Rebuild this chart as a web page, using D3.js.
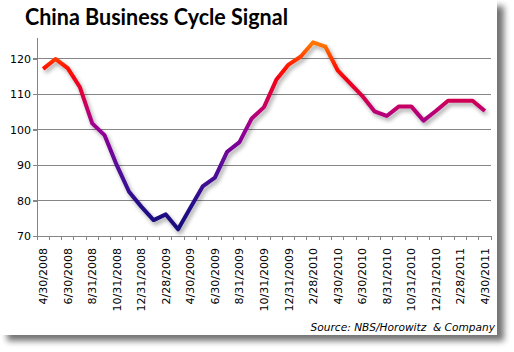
<!DOCTYPE html>
<html>
<head>
<meta charset="utf-8">
<script src="https://cdn.jsdelivr.net/npm/d3@7"></script>
<style>
  body { margin: 0; background: #fff; }
  svg { display: block; }
</style>
</head>
<body>
<div id="chart"></div>
<script>
// month-end dates, 4/30/2008 .. 4/30/2011
const dates = ["4/30/2008","5/31/2008","6/30/2008","7/31/2008","8/31/2008","9/30/2008",
  "10/31/2008","11/30/2008","12/31/2008","1/31/2009","2/28/2009","3/31/2009",
  "4/30/2009","5/31/2009","6/30/2009","7/31/2009","8/31/2009","9/30/2009",
  "10/31/2009","11/30/2009","12/31/2009","1/31/2010","2/28/2010","3/31/2010",
  "4/30/2010","5/31/2010","6/30/2010","7/31/2010","8/31/2010","9/30/2010",
  "10/31/2010","11/30/2010","12/31/2010","1/31/2011","2/28/2011","3/31/2011","4/30/2011"]

const signal = [117.2,120,117.4,112,101.8,98.5,90,82.5,78.3,74.5,76.1,71.9,
  78,84,86.5,93.8,96.5,103.2,106.4,114.1,118.4,120.7,124.7,123.5,
  116.8,113.2,109.6,105.2,103.9,106.6,106.6,102.6,105.3,108.2,108.2,108.2,105.3]

const yTicks = [70,80,90,100,110,120]

// colour of the line by value (low = blue, high = orange)
const colorStops = [[72,"#180c7c"],[78,"#241088"],[88,"#4c0c98"],[100,"#960096"],[106,"#c2006c"],
  [112,"#e6002c"],[117,"#ff0a00"],[124,"#ff7400"]]

const width = 514, height = 352
const margin = {left: 37, right: 23, top: 37, bottom: 116}

const svg = d3.select("#chart").append("svg")
    .attr("width", width)
    .attr("height", height)

const defs = svg.append("defs")

// frame shadow
const fs = defs.append("filter").attr("id","frameShadow")
    .attr("x","-5%").attr("y","-5%").attr("width","115%").attr("height","115%")
fs.append("feGaussianBlur").attr("in","SourceAlpha").attr("stdDeviation",3)
fs.append("feOffset").attr("dx",7).attr("dy",6).attr("result","b")
fs.append("feComponentTransfer").append("feFuncA").attr("type","linear").attr("slope",0.55)
const fm = fs.append("feMerge")
fm.append("feMergeNode")
fm.append("feMergeNode").attr("in","SourceGraphic")

// line shadow
const ls = defs.append("filter").attr("id","lineShadow")
    .attr("x","-10%").attr("y","-10%").attr("width","120%").attr("height","130%")
ls.append("feGaussianBlur").attr("in","SourceAlpha").attr("stdDeviation",2)
ls.append("feOffset").attr("dx",2).attr("dy",3).attr("result","b")
ls.append("feComponentTransfer").append("feFuncA").attr("type","linear").attr("slope",0.35)
const lm = ls.append("feMerge")
lm.append("feMergeNode")
lm.append("feMergeNode").attr("in","SourceGraphic")

svg.append("rect")
    .attr("x", 0).attr("y", 0)
    .attr("width", 497).attr("height", 335)
    .attr("fill", "#fff")
    .attr("filter", "url(#frameShadow)")

const x = d3.scaleBand()
    .domain(dates)
    .range([margin.left, width - margin.right])

const y = d3.scaleLinear()
    .domain([70, 126.2])
    .range([height - margin.bottom, margin.top])

const grad = defs.append("linearGradient").attr("id","lineGrad")
    .attr("gradientUnits","userSpaceOnUse")
    .attr("x1",0).attr("x2",0)
    .attr("y1",y(70)).attr("y2",y(126.2))
grad.selectAll("stop").data(colorStops).join("stop")
    .attr("offset", d => (d[0]-70)/(126.2-70))
    .attr("stop-color", d => d[1])

// gridlines
svg.append("g")
    .selectAll("line")
    .data(yTicks.filter(d => d > 70))
    .join("line")
    .attr("x1", margin.left - 4)
    .attr("x2", width - margin.right)
    .attr("y1", d => y(d)).attr("y2", d => y(d))
    .attr("stroke", "#868686")
    .attr("stroke-width", 1)
    .attr("shape-rendering","crispEdges")

// y axis
const yAxis = svg.append("g")
    .attr("transform", `translate(${margin.left},0)`)
    .call(d3.axisLeft(y).tickValues(yTicks).tickSize(4).tickSizeOuter(0))
yAxis.select(".domain").attr("stroke","#868686").attr("shape-rendering","crispEdges")
yAxis.selectAll(".tick line").attr("stroke","#868686").attr("shape-rendering","crispEdges")
yAxis.selectAll("text")
    .attr("font-family","DejaVu Sans, Verdana, sans-serif")
    .attr("font-size", 11)
    .attr("fill","#000")
    .attr("x", -6)

// x axis: ticks between categories
const xg = svg.append("g")
    .attr("transform", `translate(0,${y(70)})`)
xg.append("line")
    .attr("x1", margin.left).attr("x2", width - margin.right)
    .attr("stroke","#868686").attr("shape-rendering","crispEdges")
xg.selectAll(".tk")
    .data(dates.concat(["end"]))
    .join("line")
    .attr("class","tk")
    .attr("x1", (d,i) => margin.left + i*x.step())
    .attr("x2", (d,i) => margin.left + i*x.step())
    .attr("y1", 0).attr("y2", 4)
    .attr("stroke","#868686").attr("shape-rendering","crispEdges")
xg.selectAll(".lbl")
    .data(dates.filter((d,i) => i % 2 === 0))
    .join("text")
    .attr("class","lbl")
    .attr("transform", d => `translate(${x(d) + x.bandwidth()/2 + 4},12) rotate(-90)`)
    .attr("text-anchor","end")
    .attr("font-family","DejaVu Sans, Verdana, sans-serif")
    .attr("font-size", 11)
    .attr("fill","#000")
    .text(d => d)

// the signal line
const line = d3.line()
    .x((d,i) => x(dates[i]) + x.bandwidth()/2)
    .y(d => y(d))

svg.append("path")
    .datum(signal)
    .attr("d", line)
    .attr("fill","none")
    .attr("stroke","url(#lineGrad)")
    .attr("stroke-width", 4)
    .attr("stroke-linejoin","round")
    .attr("filter","url(#lineShadow)")

// title
svg.append("text")
    .attr("x", 25).attr("y", 25)
    .attr("font-family","Lato, Open Sans, sans-serif")
    .attr("font-weight","bold")
    .attr("font-size", 22)
    .attr("textLength", 263)
    .attr("lengthAdjust","spacingAndGlyphs")
    .attr("fill","#000")
    .text("China Business Cycle Signal")

// source note
svg.append("text")
    .attr("x", 495).attr("y", 331)
    .attr("text-anchor","end")
    .attr("font-family","DejaVu Sans, Verdana, sans-serif")
    .attr("font-style","italic")
    .attr("font-size", 10.6)
    .attr("fill","#000")
    .attr("xml:space","preserve")
    .text("Source: NBS/Horowitz  & Company")
</script>
</body>
</html>
